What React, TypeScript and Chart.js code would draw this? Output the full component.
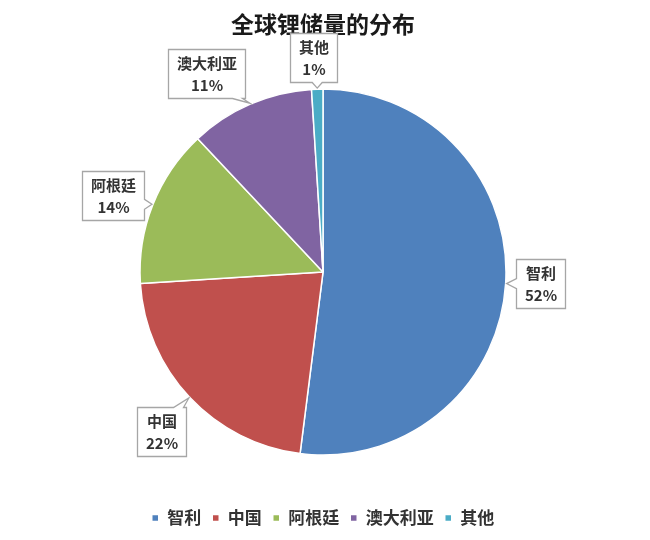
import React, { useEffect, useRef } from "react";
import { Chart, registerables } from "chart.js";

Chart.register(...registerables);

// ---- data ----
const chartTitle = "全球锂储量的分布";
const categories = ["智利", "中国", "阿根廷", "澳大利亚", "其他"];
const shares = [52, 22, 14, 11, 1];
const sliceColors = ["#4f81bd", "#c0504d", "#9bbb59", "#8064a2", "#4bacc6"];

const FONT = "'Noto Sans CJK SC', 'Noto Sans', sans-serif";

const clamp = (v: number, a: number, b: number) => Math.max(a, Math.min(b, v));

const calloutPlugin = {
  id: "callouts",
  afterDatasetsDraw(chart: any, _args: any, opts: any) {
    const ctx = chart.ctx as CanvasRenderingContext2D;
    const meta = chart.getDatasetMeta(0);
    const data = chart.data.datasets[0].data as number[];
    const labels = chart.data.labels as string[];
    ctx.save();
    ctx.font = `bold ${opts.fontSize}px ${FONT}`;
    meta.data.forEach((arc: any, i: number) => {
      const { x, y, startAngle, endAngle, outerRadius } = arc.getProps(
        ["x", "y", "startAngle", "endAngle", "outerRadius"],
        true
      );
      const mid = (startAngle + endAngle) / 2;
      const tx = x + Math.cos(mid) * (outerRadius + 1);
      const ty = y + Math.sin(mid) * (outerRadius + 1);
      const l1 = String(labels[i]);
      const l2 = `${data[i]}%`;
      const w = Math.max(ctx.measureText(l1).width, ctx.measureText(l2).width) + opts.padX * 2;
      const h = opts.boxHeight;
      const off = opts.offsets[i];
      const cx = tx + off[0];
      const cy = ty + off[1];
      const L = Math.round(cx - w / 2) + 0.5;
      const R = Math.round(cx + w / 2) + 0.5;
      const T = Math.round(cy - h / 2) + 0.5;
      const B = Math.round(cy + h / 2) + 0.5;
      const ex: Record<string, number> = { left: L - tx, right: tx - R, top: T - ty, bottom: ty - B };
      let side = "left";
      let best = -Infinity;
      for (const k of Object.keys(ex)) {
        if (ex[k] > best) {
          best = ex[k];
          side = k;
        }
      }
      const half = opts.tailWidth / 2;
      const m = half + 3;
      ctx.beginPath();
      ctx.moveTo(L, T);
      if (side === "top") {
        const bx = clamp(tx, L + m, R - m);
        ctx.lineTo(bx - half, T);
        ctx.lineTo(tx, ty);
        ctx.lineTo(bx + half, T);
      }
      ctx.lineTo(R, T);
      if (side === "right") {
        const by = clamp(ty, T + m, B - m);
        ctx.lineTo(R, by - half);
        ctx.lineTo(tx, ty);
        ctx.lineTo(R, by + half);
      }
      ctx.lineTo(R, B);
      if (side === "bottom") {
        const bx = clamp(tx, L + m, R - m);
        ctx.lineTo(bx + half, B);
        ctx.lineTo(tx, ty);
        ctx.lineTo(bx - half, B);
      }
      ctx.lineTo(L, B);
      if (side === "left") {
        const by = clamp(ty, T + m, B - m);
        ctx.lineTo(L, by + half);
        ctx.lineTo(tx, ty);
        ctx.lineTo(L, by - half);
      }
      ctx.closePath();
      ctx.fillStyle = "#ffffff";
      ctx.fill();
      ctx.strokeStyle = "#a6a6a6";
      ctx.lineWidth = 1.3;
      ctx.stroke();

      ctx.fillStyle = "#333333";
      ctx.textAlign = "center";
      ctx.textBaseline = "middle";
      const ccx = (L + R) / 2;
      const ccy = (T + B) / 2;
      ctx.fillText(l1, ccx, ccy - opts.lineGap / 2);
      ctx.fillText(l2, ccx, ccy + opts.lineGap / 2);
    });
    ctx.restore();
  },
};

const whiteBg = {
  id: "whiteBg",
  beforeDraw(chart: any) {
    const ctx = chart.ctx;
    ctx.save();
    ctx.fillStyle = "#ffffff";
    ctx.fillRect(0, 0, chart.width, chart.height);
    ctx.restore();
  },
};

export default function App() {
  const ref = useRef<HTMLCanvasElement | null>(null);

  useEffect(() => {
    document.body.style.margin = "0";
    document.body.style.overflow = "hidden";
    const canvas = ref.current;
    if (!canvas) return;
    const chart = new Chart(canvas, {
      type: "pie",
      data: {
        labels: categories,
        datasets: [
          {
            data: shares,
            backgroundColor: sliceColors,
            borderColor: "#ffffff",
            borderWidth: 1.5,
            radius: 183,
          },
        ],
      },
      options: {
        responsive: false,
        animation: false,
        events: [],
        layout: { padding: { top: 0, left: 0, right: 4, bottom: 3.5 } },
        plugins: {
          title: {
            display: true,
            text: chartTitle,
            color: "#1a1a1a",
            font: { family: FONT, size: 23, weight: "bold" },
            padding: { top: 10, bottom: 8 },
          },
          legend: {
            position: "bottom",
            labels: {
              usePointStyle: true,
              pointStyle: "rect",
              boxWidth: 7,
              boxHeight: 7,
              padding: 11,
              color: "#333333",
              font: { family: FONT, size: 17, weight: "bold" },
            },
          },
          tooltip: { enabled: false },
          callouts: {
            fontSize: 15,
            padX: 8.5,
            boxHeight: 49,
            lineGap: 22,
            tailWidth: 10,
            offsets: [
              [34, 0],
              [-27, 33],
              [-39, -9],
              [-43, -30],
              [-4, -31],
            ],
          },
        } as any,
      },
      plugins: [whiteBg, calloutPlugin],
    });
    return () => chart.destroy();
  }, []);

  return (
    <div style={{ width: 650, height: 540 }}>
      <canvas ref={ref} width={650} height={540} style={{ display: "block" }} />
    </div>
  );
}
